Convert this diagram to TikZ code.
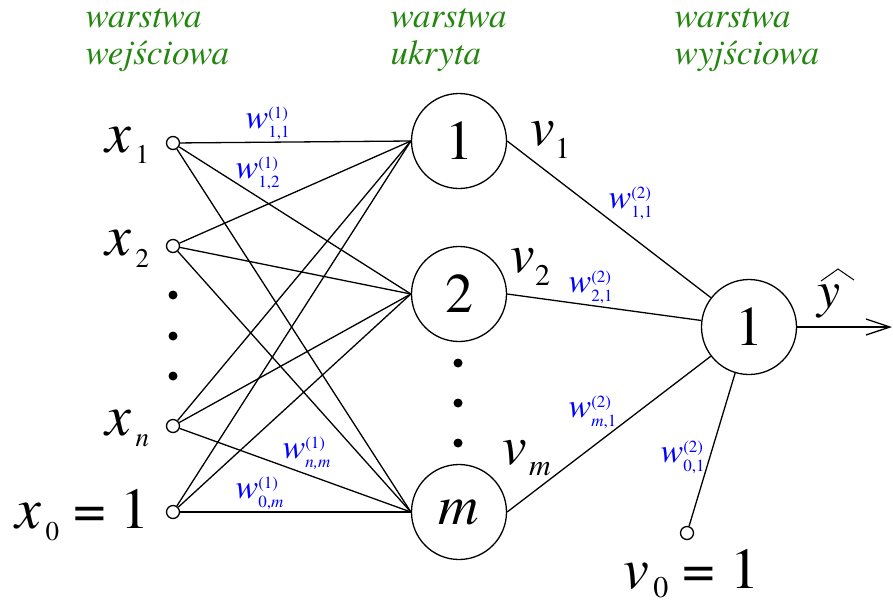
\documentclass[tikz,border=0pt]{standalone}
\usepackage{fontspec}
\setmainfont{texgyretermes}[Extension=.otf,UprightFont=*-regular,ItalicFont=*-italic,BoldFont=*-bold,BoldItalicFont=*-bolditalic]
\usetikzlibrary{arrows.meta}
\definecolor{layergreen}{RGB}{35,135,15}
\definecolor{weightblue}{RGB}{0,0,255}

% weight label: w with superscript (layer) and subscript (indices)
\newcommand{\wt}[2]{\textit{w}\rlap{\raisebox{10pt}{\fontsize{17}{17}\selectfont(#1)}}\raisebox{-9pt}{\fontsize{17}{17}\selectfont#2}}
\newcommand{\lsub}[2]{\raisebox{-#1}{\fontsize{27}{27}\selectfont#2}}
\newcommand{\vsub}[2]{\raisebox{-#1}{\fontsize{30}{30}\selectfont#2}}

\begin{document}
\begin{tikzpicture}[x=1pt,y=-1pt,line width=1.3pt,
  neuron/.style={draw,circle,minimum size=95pt,inner sep=0pt,font=\fontsize{56}{56}\selectfont},
  inp/.style={draw,circle,minimum size=13pt,inner sep=0pt},
  wlab/.style={anchor=base west,inner sep=0pt,text=weightblue,font=\fontsize{34}{34}\selectfont},
  big/.style={anchor=base west,inner sep=0pt,font=\fontsize{58}{58}\selectfont},
  layer/.style={anchor=north west,inner sep=0pt,align=left,text=layergreen,font=\itshape\fontsize{35}{37}\selectfont}]
\useasboundingbox (0,0) rectangle (893,603);

% layer titles
\node[layer] (inlayer) at (85,8) {warstwa\\wejściowa};
\node[layer] (hidlayer) at (390,8) {warstwa\\ukryta};
\node[layer] (outlayer) at (674,8) {warstwa\\wyjściowa};

% input layer
\node[inp] (x1) at (173,143) {};
\node[inp] (x2) at (173,246) {};
\node[inp] (xn) at (173,426) {};
\node[inp] (x0) at (173,512) {};
\fill (173,295) circle[radius=4.5pt];
\fill (173,336) circle[radius=4.5pt];
\fill (173,376) circle[radius=4.5pt];

\node[big] (lx1) at (105,152) {\textit{x}\hspace{4pt}\lsub{11pt}{1}};
\node[big] (lx2) at (105,255) {\textit{x}\hspace{4pt}\lsub{12pt}{2}};
\node[big] (lxn) at (105,435) {\textit{x}\hspace{4pt}\lsub{11pt}{\textit{n}}};
\node[big] (lx0) at (15,528) {\textit{x}\hspace{4pt}\lsub{12pt}{0} = 1};

% hidden layer
\node[neuron] (h1) at (459,141) {1};
\node[neuron] (h2) at (459,294) {2};
\node[neuron] (hm) at (459,512) {\textit{m}};
\fill (458,363) circle[radius=4.5pt];
\fill (458,403) circle[radius=4.5pt];
\fill (458,443) circle[radius=4.5pt];

\node[big,font=\fontsize{55}{55}\selectfont] (lv1) at (530,145) {\textit{v}\vsub{13pt}{1}};
\node[big,font=\fontsize{55}{55}\selectfont] (lv2) at (510,272) {\textit{v}\vsub{13pt}{2}};
\node[big,font=\fontsize{55}{55}\selectfont] (lvm) at (502,464) {\textit{v}\hspace{2pt}\vsub{11pt}{\textit{m}}};

% output layer
\node[neuron] (out) at (749,327) {1};
\node[inp] (v0) at (687,533) {};
\node[big] (lv0) at (623,588) {\textit{v}\hspace{4pt}\vsub{9pt}{0} = 1};
\coordinate (yend) at (892,327);
\node[anchor=base west,inner sep=0pt,font=\fontsize{52}{52}\selectfont] (lyhat) at (817,307) {\textit{y}};
\draw[line width=1pt] (821,281) -- (838,269) -- (854,280);

% connections
\foreach \i in {x1,x2,xn,x0}
  \foreach \j in {h1,h2,hm}
    \draw (\i) -- (\j.west);
\draw (h1.east) -- (out);
\draw (h2.east) -- (out);
\draw (hm.east) -- (out);
\draw (out) -- (v0);
\draw[-{Straight Barb[length=24pt,width=16pt]}] (out.east) -- (yend);

% weights
\node[wlab] (w111) at (245,128) {\wt{1}{1,1}};
\node[wlab] (w112) at (235,178) {\wt{1}{1,2}};
\node[wlab] (w1nm) at (282,458) {\wt{1}{\textit{n,m}}};
\node[wlab] (w10m) at (235,498) {\wt{1}{0,\textit{m}}};
\node[wlab] (w211) at (608,208) {\wt{2}{1,1}};
\node[wlab] (w221) at (568,292) {\wt{2}{2,1}};
\node[wlab] (w2m1) at (568,417) {\wt{2}{\textit{m},1}};
\node[wlab] (w201) at (660,462) {\wt{2}{0,1}};
\end{tikzpicture}
\end{document}
